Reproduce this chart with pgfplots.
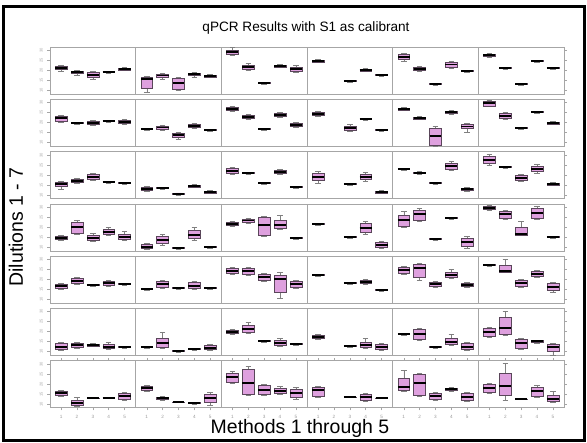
\documentclass[border=0pt]{standalone}
\usepackage{fontspec}
\setmainfont{Liberation Sans}
\usepackage{pgfplots}
\pgfplotsset{compat=1.18}
\usepgfplotslibrary{statistics}

\definecolor{boxfill}{RGB}{222,160,222}
\definecolor{boxline}{RGB}{90,70,90}

% one prepared box: position, lower whisker, q1, median, q3, upper whisker (y in pixel rows, axis reversed)
\newcommand{\bx}[6]{\addplot[bxs, boxplot prepared={draw position=#1,
  lower whisker=#2, lower quartile=#3, median=#4, upper quartile=#5, upper whisker=#6}]
  coordinates {};}

\pgfplotsset{
  bxs/.style={draw=boxline, line width=0.35pt, fill=boxfill,
    boxplot/draw direction=y, boxplot/box extend=0.75,
    boxplot/whisker extend=0.35,
    boxplot/every median/.style={draw=black, line width=1.3pt},
    boxplot/every whisker/.style={draw=gray, line width=0.3pt}},
  rowax/.style={scale only axis, width=385.5pt, height=35.25pt,
    xmin=0.3, xmax=32.7, y dir=reverse,
    axis line style={gray!70, line width=0.6pt},
    xtick=\empty, tick align=outside,
    major tick length=2pt, tick style={gray!70, line width=0.3pt},
    yticklabel style={font=\fontsize{3}{3}\selectfont, text=gray!70, rotate=90},
    /pgf/number format/assume math mode=true,
    extra x ticks={5.7,11.1,16.5,21.9,27.3}, extra x tick labels={},
    extra x tick style={grid=major, major tick length=0pt,
      major grid style={gray!70, line width=0.6pt}},
    yticklabels={30,25,20,15,10}},
}

\begin{document}
\begin{tikzpicture}
\useasboundingbox (0,0) rectangle (440.25pt,-332.25pt);
\draw[line width=2.25pt] (2.25pt,-4.5pt) rectangle (438pt,-330pt);

\node[font=\fontsize{10.2}{12}\selectfont] at (229.5pt,-21pt) {qPCR Results with S1 as calibrant};
\node[font=\fontsize{14.6}{16}\selectfont, rotate=90] at (12pt,-170.25pt) {Dilutions 1 - 7};
\node[font=\fontsize{14.6}{16}\selectfont] at (225pt,-321pt) {Methods 1 through 5};

% Dilution 1
\begin{axis}[rowax, at={(37.5pt,-35.25pt)}, anchor=north west, ymin=47, ymax=94,
  ytick={50,60,70,80,90}]
\bx{1}{65}{66.5}{68}{69.5}{71}
\bx{2}{70}{71}{72}{73.5}{75}
\bx{3}{71}{72.5}{75}{77.5}{79}
\bx{4}{71}{71.5}{72}{72.7}{73.5}
\bx{5}{67.5}{68.3}{69}{69.8}{70.5}
\bx{6.4}{76}{77}{79}{88}{92}
\bx{7.4}{73}{74}{75.5}{77.5}{79}
\bx{8.4}{77}{78}{83}{89}{90}
\bx{9.4}{72}{73}{74}{75.5}{77}
\bx{10.4}{74.5}{75.3}{76}{76.8}{77.5}
\bx{11.8}{47.5}{50}{52}{54}{55}
\bx{12.8}{63.5}{65}{67}{69}{70}
\bx{13.8}{82}{82.6}{83}{83.4}{84}
\bx{14.8}{64.5}{65.3}{66}{66.8}{67.5}
\bx{15.8}{65}{67}{69}{71}{72}
\bx{17.2}{59.5}{60.3}{61}{61.8}{62.5}
\bx{19.2}{80}{80.5}{81}{81.5}{82}
\bx{20.2}{68.5}{69.3}{70}{70.8}{71.5}
\bx{21.2}{74}{74.5}{75}{75.5}{76}
\bx{22.6}{53}{54}{57}{59.5}{61}
\bx{23.6}{66}{67}{69}{70.5}{71.5}
\bx{24.6}{83}{83.5}{84}{84.5}{85}
\bx{25.6}{61}{62}{64.5}{67}{68}
\bx{26.6}{70}{70.5}{71}{71.6}{72.5}
\bx{28}{53}{54}{55}{56.5}{57.5}
\bx{29}{67}{67.5}{68}{68.6}{69.2}
\bx{30}{83}{83.5}{84}{84.4}{85}
\bx{31}{60}{60.5}{61}{61.6}{62.2}
\bx{32}{67}{67.5}{68}{68.5}{69}
\end{axis}

% Dilution 2
\begin{axis}[rowax, at={(37.5pt,-74.475pt)}, anchor=north west, ymin=99.3, ymax=146.3,
  ytick={102,112,122,132,142}]
\bx{1}{115}{116}{118}{121}{122}
\bx{2}{122}{122.5}{123}{123.6}{124.3}
\bx{3}{120}{121}{123}{124.5}{125.5}
\bx{4}{120}{120.5}{121}{121.6}{122.2}
\bx{5}{119.5}{120.5}{122}{123.5}{124.5}
\bx{6.4}{128.3}{128.6}{129}{129.4}{129.7}
\bx{7.4}{125}{126}{127.5}{129}{130}
\bx{8.4}{132}{133}{135}{137.5}{139}
\bx{9.4}{123.5}{124.5}{126}{127.3}{128}
\bx{10.4}{129}{129.5}{130}{130.5}{131}
\bx{11.8}{106.5}{107.5}{109}{110.5}{111.5}
\bx{12.8}{114.5}{115.5}{117}{118.5}{119.5}
\bx{13.8}{128}{128.5}{129}{129.4}{130}
\bx{14.8}{112.5}{113.5}{115}{116.5}{117.5}
\bx{15.8}{122}{123}{125}{126.5}{127.5}
\bx{17.2}{111.5}{112.5}{114}{115.5}{116.5}
\bx{19.2}{124.5}{125.8}{128}{130}{131}
\bx{20.2}{118}{118.5}{119}{119.7}{120.3}
\bx{21.2}{129.3}{129.6}{130}{130.4}{130.8}
\bx{22.6}{107.5}{108.2}{109}{109.8}{110.5}
\bx{23.6}{116.5}{117.2}{118}{118.8}{119.5}
\bx{24.6}{126}{128}{136}{145}{146}
\bx{25.6}{110.5}{111.3}{112}{113}{113.8}
\bx{26.6}{123.5}{124.5}{126.5}{128.5}{132}
\bx{28}{100}{101}{103}{106}{106.5}
\bx{29}{112}{113}{116}{118.5}{119.5}
\bx{30}{127}{127.5}{128}{128.5}{129}
\bx{31}{111}{111.5}{112}{112.7}{113.3}
\bx{32}{121.5}{122.3}{123}{123.8}{124.5}
\end{axis}

% Dilution 3
\begin{axis}[rowax, at={(37.5pt,-113.7pt)}, anchor=north west, ymin=151.6, ymax=198.6,
  ytick={155,165,175,185,195}]
\bx{1}{181}{182}{184}{186.5}{189}
\bx{2}{178}{179}{181}{182.5}{183.5}
\bx{3}{173}{174}{177}{179.5}{180.5}
\bx{4}{181}{181.5}{182}{182.5}{183}
\bx{5}{182}{182.5}{183}{183.5}{184}
\bx{6.4}{186.5}{187.5}{189}{190.5}{191.5}
\bx{7.4}{187}{187.5}{188}{188.6}{189.2}
\bx{8.4}{192.8}{193.4}{194}{194.6}{195.2}
\bx{9.4}{184.5}{185.3}{186}{186.8}{187.5}
\bx{10.4}{190.5}{191.3}{192}{192.8}{193.5}
\bx{11.8}{167}{168}{171}{173.5}{174.5}
\bx{12.8}{172}{172.5}{173}{173.6}{174.2}
\bx{13.8}{182}{182.5}{183}{183.6}{184.2}
\bx{14.8}{169}{170}{172}{173.5}{174.5}
\bx{15.8}{186}{186.5}{187}{187.6}{188.2}
\bx{17.2}{171}{173}{177}{180.5}{183}
\bx{19.2}{183.3}{183.6}{184}{184.4}{184.7}
\bx{20.2}{172}{174}{177}{179.5}{181}
\bx{21.2}{190.5}{191.3}{192}{192.8}{193.5}
\bx{22.6}{168}{168.5}{169}{169.6}{170.2}
\bx{23.6}{171.5}{172.3}{173}{173.7}{174.5}
\bx{24.6}{182}{182.5}{183}{183.6}{184.2}
\bx{25.6}{161}{163}{166}{169}{170.5}
\bx{26.6}{187}{188}{189}{190}{191}
\bx{28}{154}{156}{160}{163.5}{165}
\bx{29}{166}{166.5}{167}{167.6}{168.2}
\bx{30}{174}{175}{178}{180}{181}
\bx{31}{164.5}{166}{169}{171.5}{173}
\bx{32}{182.5}{183.3}{184}{184.8}{185.5}
\end{axis}

% Dilution 4
\begin{axis}[rowax, at={(37.5pt,-152.925pt)}, anchor=north west, ymin=203.9, ymax=250.9,
  ytick={207,217,227,237,247}]
\bx{1}{235}{236}{238}{239.5}{240.5}
\bx{2}{220}{222}{227}{233}{234}
\bx{3}{233}{235}{238}{240.5}{241.5}
\bx{4}{227.5}{229}{232}{234.5}{235.5}
\bx{5}{231}{234}{237}{239.5}{240.5}
\bx{6.4}{243}{244}{247}{248.5}{249.5}
\bx{7.4}{234}{236}{240}{243.5}{245}
\bx{8.4}{247.3}{247.6}{248}{248.4}{248.7}
\bx{9.4}{227}{230}{235}{238.5}{240}
\bx{10.4}{246}{246.5}{247}{247.6}{248.2}
\bx{11.8}{221}{222}{224}{225.5}{226.5}
\bx{12.8}{218}{219}{220.5}{222}{223}
\bx{13.8}{216}{217}{225}{235}{236}
\bx{14.8}{215}{220}{225}{228}{229}
\bx{15.8}{237}{237.5}{238}{238.6}{239.2}
\bx{17.2}{223}{223.5}{224}{224.5}{225}
\bx{19.2}{236}{236.5}{237}{237.6}{238.2}
\bx{20.2}{221}{223}{228}{232.5}{234}
\bx{21.2}{241}{242}{245}{247}{248}
\bx{22.6}{211}{215}{220}{226}{227}
\bx{23.6}{208}{210}{214}{220}{221}
\bx{24.6}{238}{238.5}{239}{239.6}{240.2}
\bx{25.6}{217}{217.5}{218}{218.6}{219.2}
\bx{26.6}{236}{238}{242}{246.5}{248}
\bx{28}{205}{206}{208}{209.5}{210.5}
\bx{29}{210}{211}{214}{218.5}{219.5}
\bx{30}{221}{227}{234}{235}{235.5}
\bx{31}{206}{208}{213}{218.5}{219.5}
\bx{32}{236}{236.5}{237}{237.6}{238.2}
\end{axis}

% Dilution 5
\begin{axis}[rowax, at={(37.5pt,-192.15pt)}, anchor=north west, ymin=256.2, ymax=303.2,
  ytick={259,269,279,289,299}]
\bx{1}{283}{284}{286}{288.5}{289.5}
\bx{2}{277}{278}{281}{283.5}{284.5}
\bx{3}{284.3}{284.6}{285}{285.4}{285.7}
\bx{4}{280}{281}{283}{285}{286}
\bx{5}{283.3}{283.6}{284}{284.4}{284.7}
\bx{6.4}{288.3}{288.6}{289}{289.4}{289.7}
\bx{7.4}{280}{281}{284}{287}{288}
\bx{8.4}{287.3}{287.6}{288}{288.4}{288.7}
\bx{9.4}{281}{282}{286}{288.5}{289.5}
\bx{10.4}{287}{287.5}{288}{288.6}{289.2}
\bx{11.8}{267}{268}{271}{273.5}{274.5}
\bx{12.8}{267}{268}{271}{274}{275.5}
\bx{13.8}{273}{274}{277}{280}{281}
\bx{14.8}{272}{275}{279}{292}{298}
\bx{15.8}{280}{281}{284}{287}{288}
\bx{17.2}{274.3}{274.6}{275}{275.4}{275.7}
\bx{19.2}{282.3}{282.6}{283}{283.4}{283.7}
\bx{20.2}{279}{280}{282}{283.5}{284.5}
\bx{21.2}{289}{289.5}{290}{290.6}{291.2}
\bx{22.6}{266}{267}{270}{273}{274.5}
\bx{23.6}{263}{264}{268}{277}{280}
\bx{24.6}{281}{282}{284}{286}{287}
\bx{25.6}{269}{272}{275}{277.5}{278.5}
\bx{26.6}{282}{283}{285}{286.5}{287.5}
\bx{28}{264.3}{264.6}{265}{265.4}{265.7}
\bx{29}{259}{265}{271}{272}{272.5}
\bx{30}{279}{280}{283}{286}{287}
\bx{31}{270}{271}{274}{276.5}{277.5}
\bx{32}{282}{283}{287}{290}{292}
\end{axis}

% Dilution 6
\begin{axis}[rowax, at={(37.5pt,-231.375pt)}, anchor=north west, ymin=308.5, ymax=355.5,
  ytick={311,321,331,341,351}]
\bx{1}{342}{343}{347}{349.5}{350.5}
\bx{2}{342}{343}{345}{347.5}{348.5}
\bx{3}{343.5}{344.2}{345}{345.8}{346.5}
\bx{4}{342}{344}{347}{348.5}{349.5}
\bx{5}{346.3}{346.6}{347}{347.4}{347.7}
\bx{6.4}{346}{346.5}{347}{347.6}{348.2}
\bx{7.4}{332}{338}{343}{347}{348}
\bx{8.4}{350.3}{350.6}{351}{351.4}{351.7}
\bx{9.4}{348.3}{348.6}{349}{349.4}{349.7}
\bx{10.4}{344}{345}{348}{349.5}{350.5}
\bx{11.8}{329}{330}{332}{333.5}{334.5}
\bx{12.8}{322}{325}{329}{332}{333}
\bx{13.8}{340}{340.5}{341}{341.5}{342}
\bx{14.8}{338}{340}{343}{345.5}{346.5}
\bx{15.8}{343}{343.5}{344}{344.6}{345.2}
\bx{17.2}{334.5}{335.5}{337}{338.5}{339.5}
\bx{19.2}{345.3}{345.6}{346}{346.4}{346.7}
\bx{20.2}{338}{342}{345}{347.5}{348.5}
\bx{21.2}{343}{344}{347}{349.5}{350.5}
\bx{22.6}{333.3}{333.6}{334}{334.4}{334.7}
\bx{23.6}{328}{329}{334}{339}{340}
\bx{24.6}{346.3}{346.6}{347}{347.4}{347.7}
\bx{25.6}{334}{338}{342}{344}{345}
\bx{26.6}{342}{343}{347}{349.5}{350.5}
\bx{28}{327}{328}{332}{336}{337}
\bx{29}{311}{317}{328}{334}{335}
\bx{30}{338}{339}{343}{348}{349}
\bx{31}{340}{340.5}{341}{342}{343}
\bx{32}{343}{344}{347}{351}{355}
\end{axis}

% Dilution 7
\begin{axis}[rowax, at={(37.5pt,-270.6pt)}, anchor=north west, ymin=360.8, ymax=407.8,
  ytick={364,374,384,394,404},
  xtick={1,2,3,4,5,6.4,7.4,8.4,9.4,10.4,11.8,12.8,13.8,14.8,15.8,17.2,18.2,19.2,20.2,21.2,22.6,23.6,24.6,25.6,26.6,28,29,30,31,32},
  xticklabels={1,2,3,4,5,1,2,3,4,5,1,2,3,4,5,1,2,3,4,5,1,2,3,4,5,1,2,3,4,5},
  xticklabel style={font=\fontsize{3.5}{3.5}\selectfont, text=gray!80}]
\bx{1}{390}{391}{393}{395.5}{396.5}
\bx{2}{397}{400}{403}{405.5}{406.5}
\bx{3}{397.5}{397.8}{398}{398.3}{398.6}
\bx{4}{397.5}{397.8}{398}{398.3}{398.6}
\bx{5}{392}{393}{396}{399}{400}
\bx{6.4}{385}{386}{388}{390.5}{391.5}
\bx{7.4}{396}{397}{398}{399.5}{400.5}
\bx{8.4}{401.6}{401.8}{402}{402.3}{402.6}
\bx{9.4}{402}{402.5}{403}{403.4}{404}
\bx{10.4}{392}{394}{398}{402}{405}
\bx{11.8}{371}{373}{377}{382}{383}
\bx{12.8}{366}{369}{383}{394}{395}
\bx{13.8}{384}{385}{390}{394}{395}
\bx{14.8}{386}{388}{391}{393}{394}
\bx{15.8}{387}{389}{393}{397.5}{399}
\bx{17.2}{386}{387}{390}{396}{397}
\bx{19.2}{396.5}{396.8}{397}{397.3}{397.6}
\bx{20.2}{393}{394}{397}{400}{401}
\bx{21.2}{397.5}{397.8}{398}{398.3}{398.6}
\bx{22.6}{370}{378}{387}{390}{391}
\bx{23.6}{373}{374}{383}{395}{396}
\bx{24.6}{392}{393}{396}{399}{400}
\bx{25.6}{387}{388}{389}{390.5}{391.5}
\bx{26.6}{392}{393}{397}{400}{401}
\bx{28}{383}{384}{388}{392}{393}
\bx{29}{363}{373}{386}{395}{400}
\bx{30}{398.5}{398.8}{399}{399.3}{399.6}
\bx{31}{385}{387}{391}{396}{397}
\bx{32}{391}{395}{399}{401}{402}
\end{axis}
\end{tikzpicture}
\end{document}
